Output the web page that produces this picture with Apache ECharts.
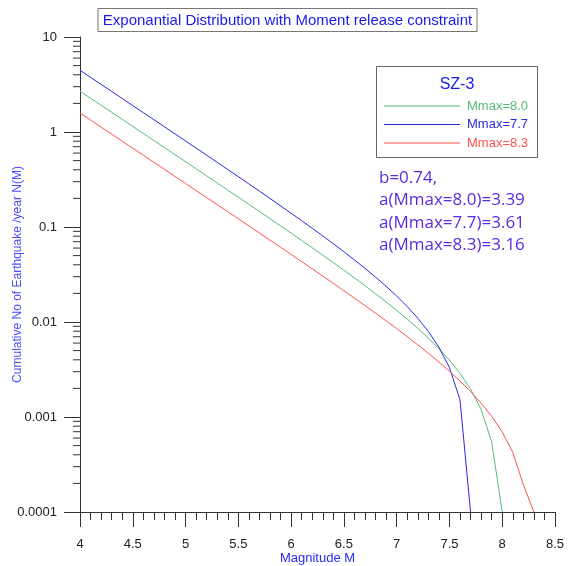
<!DOCTYPE html>
<html>
<head>
<meta charset="utf-8">
<script src="https://cdn.jsdelivr.net/npm/echarts@6/dist/echarts.min.js"></script>
<style>
  html, body { margin: 0; padding: 0; background: #ffffff; }
  #chart { width: 575px; height: 566px; }
</style>
</head>
<body>
<div id="chart"></div>
<script>
// Magnitude steps (0.1 M) and cumulative annual rates N(M) for SZ-3
const magnitudes = [
  4.0, 4.1, 4.2, 4.3, 4.4, 4.5, 4.6, 4.7, 4.8, 4.9,
  5.0, 5.1, 5.2, 5.3, 5.4, 5.5, 5.6, 5.7, 5.8, 5.9,
  6.0, 6.1, 6.2, 6.3, 6.4, 6.5, 6.6, 6.7, 6.8, 6.9,
  7.0, 7.1, 7.2, 7.3, 7.4, 7.5, 7.6, 7.7, 7.8, 7.9,
  8.0, 8.1, 8.2, 8.3
];

// Mmax = 8.0
const rateMmax80 = [
  2.689, 2.267, 1.911, 1.611, 1.358, 1.145, 0.9653, 0.8136, 0.6857, 0.5778,
  0.4868, 0.4101, 0.3454, 0.2908, 0.2448, 0.2060, 0.1732, 0.1456, 0.1224, 0.1027,
  0.08618, 0.07221, 0.06044, 0.05051, 0.04213, 0.03507, 0.02911, 0.02409, 0.01985, 0.01628,
  0.01327, 0.01073, 0.00858, 0.00678, 0.00525, 0.00397, 0.00288, 0.00197, 0.00120, 0.000548,
  0.0001
];

// Mmax = 7.7
const rateMmax77 = [
  4.459, 3.759, 3.169, 2.671, 2.251, 1.897, 1.599, 1.347, 1.135, 0.9556,
  0.8046, 0.6773, 0.5699, 0.4793, 0.4029, 0.3385, 0.2842, 0.2384, 0.1998, 0.1672,
  0.1397, 0.1165, 0.0970, 0.08055, 0.06665, 0.05493, 0.04504, 0.03670, 0.02967, 0.02375,
  0.01875, 0.01453, 0.01097, 0.00797, 0.00544, 0.00331, 0.00152, 0.0001
];

// Mmax = 8.3
const rateMmax83 = [
  1.584, 1.336, 1.126, 0.9496, 0.8007, 0.6751, 0.5692, 0.4798, 0.4045, 0.3410,
  0.2874, 0.2422, 0.2041, 0.1720, 0.1449, 0.1220, 0.1028, 0.08646, 0.07275, 0.06119,
  0.05144, 0.04322, 0.03629, 0.03044, 0.02551, 0.02135, 0.01784, 0.01488, 0.01239, 0.01028,
  0.00851, 0.00701, 0.00575, 0.00469, 0.00379, 0.00303, 0.00239, 0.00186, 0.00140, 0.00102,
  0.000696, 0.000424, 0.000194, 0.0001
];

const seriesNames = ['Mmax=8.0', 'Mmax=7.7', 'Mmax=8.3'];
const seriesColors = ['#55bb77', '#2a2ae0', '#ff5050'];
const yTickLabels = ['0.0001', '0.001', '0.01', '0.1', '1', '10'];
// intermediate log ticks (2..9 within each decade)
const yMinorTicks = [];
[0.0001, 0.001, 0.01, 0.1, 1].forEach(function (d) {
  for (let k = 2; k <= 9; k++) yMinorTicks.push(+(d * k).toPrecision(3));
});

const annotationLines = ['b=0.74,', 'a(Mmax=8.0)=3.39', 'a(Mmax=7.7)=3.61', 'a(Mmax=8.3)=3.16'];

function pairs(values) {
  return values.map(function (v, i) { return [magnitudes[i], v]; });
}

const chart = echarts.init(document.getElementById('chart'), null, { renderer: 'canvas' });

const axisColor = '#333333';
const sansFamily = 'Liberation Sans, Arial, sans-serif';
const labelFont = { fontFamily: sansFamily, fontSize: 13, color: '#222222' };

chart.setOption({
  backgroundColor: '#ffffff',
  animation: false,
  title: {
    text: 'Exponantial Distribution with Moment release constraint',
    left: 'center',
    top: 8,
    padding: [5, 5, 4, 5],
    borderColor: '#777777',
    borderWidth: 1,
    textStyle: {
      fontFamily: sansFamily,
      fontSize: 15,
      fontWeight: 'normal',
      color: '#1a1aee'
    }
  },
  grid: { left: 80, right: 20, top: 37, bottom: 54, outerBoundsMode: 'none', containLabel: false },
  legend: {
    data: seriesNames.map(function (n, i) {
      return { name: n, icon: 'rect', textStyle: { color: seriesColors[i] } };
    }),
    orient: 'vertical',
    left: 384,
    top: 99,
    padding: 0,
    itemWidth: 76,
    itemHeight: 1,
    itemGap: 4.5,
    selectedMode: false,
    textStyle: { fontFamily: sansFamily, fontSize: 13, lineHeight: 14, padding: [0, 0, 0, 2] }
  },
  xAxis: {
    type: 'value',
    min: 4,
    max: 8.5,
    interval: 0.5,
    name: 'Magnitude M',
    nameLocation: 'middle',
    nameGap: 40,
    nameMoveOverlap: false,
    nameTextStyle: { fontFamily: sansFamily, fontSize: 13, color: '#2a2aff' },
    axisLine: { show: true, onZero: false, lineStyle: { color: axisColor, width: 1 } },
    axisTick: { show: true, inside: false, length: 15, lineStyle: { color: axisColor } },
    minorTick: { show: true, splitNumber: 5, length: 8, lineStyle: { color: axisColor } },
    axisLabel: Object.assign({ margin: 26 }, labelFont),
    splitLine: { show: false },
    minorSplitLine: { show: false }
  },
  yAxis: {
    type: 'log',
    logBase: 10,
    min: 0.0001,
    max: 10,
    name: 'Cumulative No of Earthquake /year N(M)',
    nameLocation: 'middle',
    nameGap: 56,
    nameMoveOverlap: false,
    nameTextStyle: { fontFamily: sansFamily, fontSize: 12, color: '#4a4aff' },
    axisLine: { show: true, onZero: false, lineStyle: { color: axisColor, width: 1 } },
    axisTick: { show: true, inside: false, length: 16, lineStyle: { color: axisColor } },
    minorTick: { show: false },
    axisLabel: Object.assign({
      margin: 23,
      formatter: function (v) {
        const e = Math.round(Math.log10(v));
        return yTickLabels[e + 4] !== undefined ? yTickLabels[e + 4] : '';
      }
    }, labelFont),
    splitLine: { show: false }
  },
  graphic: [
    {
      type: 'rect',
      shape: { x: 376.5, y: 66.5, width: 161, height: 91 },
      style: { fill: '#ffffff', stroke: '#666666', lineWidth: 1 },
      z: 1
    },
    {
      type: 'text',
      x: 457, y: 85,
      style: {
        text: 'SZ-3',
        fill: '#1a1aee',
        font: '16px "Liberation Sans", Arial, sans-serif',
        align: 'center',
        verticalAlign: 'middle'
      },
      z: 2
    }
  ].concat(annotationLines.map(function (t, i) {
    return {
      type: 'text',
      x: 379,
      y: 178 + i * 22.5,
      style: {
        text: t,
        fill: '#5a2be0',
        font: '17px "Open Sans", sans-serif',
        align: 'left',
        verticalAlign: 'middle'
      },
      z: 2
    };
  })),
  series: [
    {
      name: seriesNames[0], type: 'line', data: pairs(rateMmax80),
      symbol: 'none', smooth: false, color: seriesColors[0],
      lineStyle: { width: 1, color: seriesColors[0] }, z: 3
    },
    {
      name: seriesNames[1], type: 'line', data: pairs(rateMmax77),
      symbol: 'none', smooth: false, color: seriesColors[1],
      lineStyle: { width: 1, color: seriesColors[1] }, z: 3
    },
    {
      name: seriesNames[2], type: 'line', data: pairs(rateMmax83),
      symbol: 'none', smooth: false, color: seriesColors[2],
      lineStyle: { width: 1, color: seriesColors[2] }, z: 3
    },
    {
      // short intermediate ticks on the log axis
      name: 'yMinor', type: 'custom', silent: true, clip: false,
      data: yMinorTicks.map(function (v) { return [4, v]; }),
      renderItem: function (params, api) {
        const p = api.coord([api.value(0), api.value(1)]);
        return {
          type: 'line',
          shape: { x1: p[0] - 7, y1: p[1], x2: p[0], y2: p[1] },
          style: { stroke: axisColor, lineWidth: 1 }
        };
      }
    }
  ]
});
</script>
</body>
</html>
